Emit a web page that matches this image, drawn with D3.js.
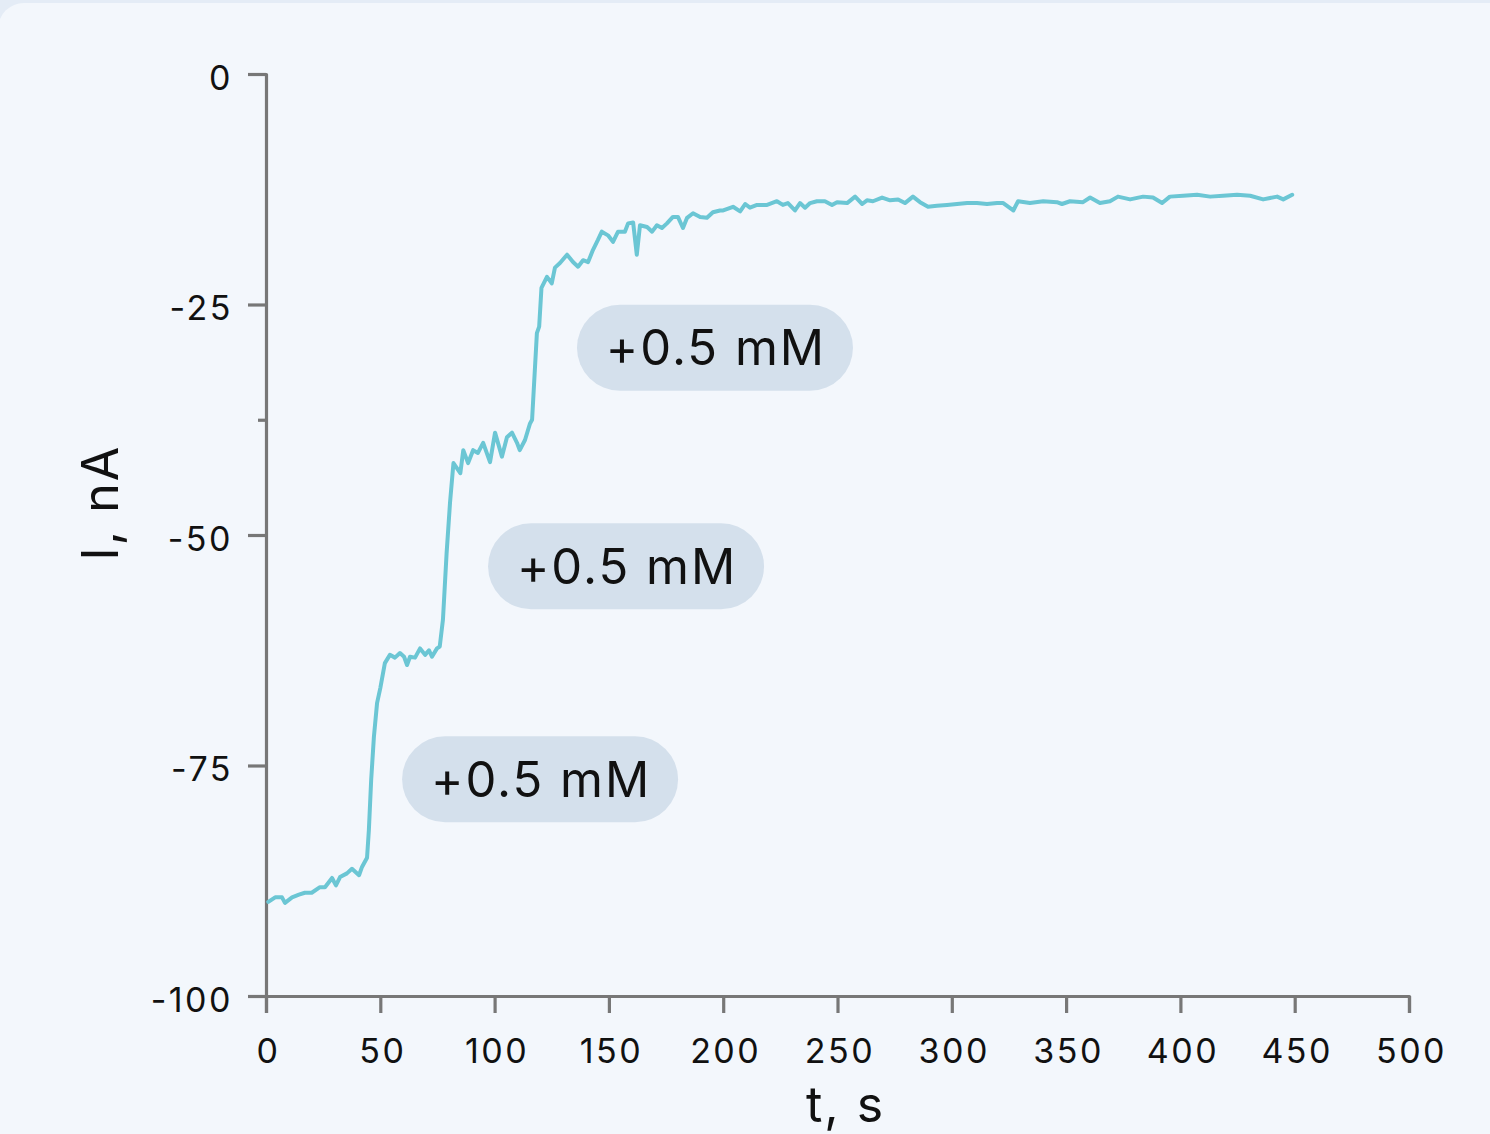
<!DOCTYPE html>
<html>
<head>
<meta charset="utf-8">
<script src="https://cdn.jsdelivr.net/npm/d3@7"></script>
<style>
  html, body { margin: 0; padding: 0; background: #e4ecf6; }
  svg { display: block; font-family: Inter, "Noto Sans", sans-serif; }
</style>
</head>
<body>
<svg id="chart"></svg>
<script>
// chart size
const width = 1490, height = 1134;

// time, s
const timeS = [
  1, 4, 7, 8.3, 11.4, 14.4, 17, 20, 23.6, 25.8, 28.9, 30.6, 32.4, 35.4, 37.6, 40.7, 42, 44.2,
  45, 46, 47.2, 48.6, 50, 52, 54.2, 56.4, 58.6, 60.4, 61.7, 63, 65.2, 67.4, 69.6, 71.3, 72.6,
  74.8, 76, 77.4, 79, 80.5, 82, 85, 86.3, 88.4, 90.6, 92.7, 95, 98, 100.2, 103.2, 105.4,
  107.6, 109.8, 111, 113.3, 115.5, 116.4, 118.5, 119.5, 120.5, 122.9, 125, 126.4, 128.6,
  131.7, 134.3, 136.5, 138.7, 140.9, 143, 145.2, 146.9, 149.6, 151.8, 154, 157, 158.4,
  160.6, 162.2, 163.6, 166.7, 168.9, 171, 173.2, 175.4, 178, 180.2, 182.4, 184.2, 186.8,
  189.9, 192.9, 195.5, 198.6, 200, 204.3, 207.4, 209.6, 211.7, 214.8, 219.2, 223.5, 226.1,
  228.3, 231.4, 233.6, 235.8, 238, 241, 244.5, 247.6, 249.8, 254.2, 257.7, 260.8, 262.9,
  265.5, 269.5, 273, 276.5, 279.5, 283, 286.1, 289.6, 293.5, 297.9, 302.3, 306.7, 311,
  315.4, 319.8, 322.5, 326.9, 329, 334.2, 340, 346, 348.2, 351.7, 357.4, 360.5, 364.8,
  369.2, 372.7, 378, 383.7, 388, 392, 395.4, 401.2, 407.3, 413, 418.7, 424.8, 430.5,
  436.2, 442.3, 445, 448.9
];

// current, nA
const currentNA = [
  -89.8, -89.3, -89.3, -89.9, -89.3, -89.0, -88.8, -88.8, -88.2, -88.2, -87.2, -88.0, -87.1,
  -86.7, -86.2, -86.9, -86.0, -85.0,
  -82.0, -76.6, -71.9, -68.2, -66.6, -63.9, -63.0, -63.3, -62.8, -63.2, -64.1, -63.2, -63.3,
  -62.3, -63.0, -62.5, -63.2,
  -62.3, -62.1, -59.2, -52.0, -46.5, -42.2, -43.3, -40.8, -42.2, -40.8, -41.1, -40.0, -42.1,
  -38.9, -41.5, -39.4,
  -38.9, -40.0, -40.8, -39.7, -37.9, -37.5, -28.1, -27.4, -23.2, -22.0, -22.7, -21.0, -20.5,
  -19.6, -20.4, -20.9, -20.2, -20.4, -19.1, -18.0, -17.1, -17.5, -18.2, -17.1, -17.1, -16.2,
  -16.1, -19.6, -16.4, -16.6, -17.1, -16.4, -16.7, -16.2, -15.5, -15.5, -16.7, -15.6, -15.1,
  -15.5, -15.6, -15.0, -14.8, -14.8, -14.4, -14.9, -14.1, -14.5, -14.2, -14.2, -13.8, -14.2,
  -14.0, -14.8, -14.0, -14.5, -14.0, -13.8, -13.8, -14.2, -13.9, -14.0, -13.3, -14.1, -13.7,
  -13.8, -13.4, -13.7, -13.6, -14.0, -13.3, -13.9, -14.4, -14.3, -14.2, -14.1, -14.0, -14.0,
  -14.1, -14.0, -14.0, -14.8, -13.8, -14.0, -13.8, -13.9, -14.1, -13.8, -13.9, -13.4, -14.0,
  -13.8, -13.3, -13.6, -13.3, -13.4, -14.0, -13.3, -13.2, -13.1, -13.3, -13.2, -13.1, -13.2,
  -13.6, -13.3, -13.6, -13.1
];

// axis ticks
const xTicks = [0, 50, 100, 150, 200, 250, 300, 350, 400, 450, 500];
const yTicks = [0, -25, -50, -75, -100];
const yMinorTicks = [-37.5];

// annotations: label text and anchor (t, I) of the pill centre
const annoText = ['+0.5 mM', '+0.5 mM', '+0.5 mM'];
const annoT = [119.9, 157.5, 196.4];
const annoI = [-76.5, -53.4, -29.7];

const margin = { left: 266, top: 74, right: 81, bottom: 138 };

const svg = d3.select('#chart').attr('width', width).attr('height', height);

// card background
svg.append('rect')
  .attr('x', -2).attr('y', 3)
  .attr('width', width + 30).attr('height', height + 30)
  .attr('rx', 26)
  .attr('fill', '#f3f7fc');

const x = d3.scaleLinear().domain([0, 500]).range([margin.left, width - margin.right]);
const y = d3.scaleLinear().domain([-100, 0]).range([height - margin.bottom, margin.top]);

const axisColor = '#777777';

// x axis
svg.append('g')
  .attr('class', 'xaxis')
  .attr('transform', `translate(0,${y(-100)})`)
  .call(d3.axisBottom(x).tickValues(xTicks).tickSize(17).tickPadding(26).tickFormat(d3.format('d')));

// y axis
svg.append('g')
  .attr('class', 'yaxis')
  .attr('transform', `translate(${x(0)},0)`)
  .call(d3.axisLeft(y).tickValues(yTicks).tickSize(18).tickPadding(15).tickFormat(d => d === 0 ? '0' : '-' + Math.abs(d)));

// minor tick
svg.append('g')
  .attr('transform', `translate(${x(0)},0)`)
  .call(d3.axisLeft(y).tickValues(yMinorTicks).tickSize(8).tickFormat(''))
  .call(g => g.select('.domain').remove());

svg.selectAll('.domain, .tick line')
  .attr('stroke', axisColor)
  .attr('stroke-width', 3.2)
  .attr('stroke-linejoin', 'round');

svg.selectAll('.tick text')
  .attr('fill', '#111')
  .attr('font-size', 34)
  .attr('letter-spacing', 2.5)
  .attr('font-family', 'Inter, sans-serif');

svg.selectAll('.yaxis .tick text').attr('dy', '0.45em');
svg.selectAll('.xaxis .tick text').attr('dx', 2);

// data line
const line = d3.line()
  .x((d, i) => x(timeS[i]))
  .y(d => y(d));

svg.append('path')
  .datum(currentNA)
  .attr('fill', 'none')
  .attr('stroke', '#6bc6d4')
  .attr('stroke-width', 4)
  .attr('stroke-linejoin', 'round')
  .attr('stroke-linecap', 'round')
  .attr('d', line);

// annotation pills
const pillW = 276, pillH = 86;
const anno = svg.append('g').selectAll('g')
  .data(annoText)
  .enter()
  .append('g')
  .attr('transform', (d, i) => `translate(${x(annoT[i])},${y(annoI[i])})`);

anno.append('rect')
  .attr('x', -pillW / 2).attr('y', -pillH / 2)
  .attr('width', pillW).attr('height', pillH)
  .attr('rx', pillH / 2)
  .attr('fill', '#d4e0ec');

anno.append('text')
  .attr('text-anchor', 'middle')
  .attr('dx', 1)
  .attr('dy', '0.36em')
  .attr('font-size', 49)
  .attr('letter-spacing', 2)
  .attr('fill', '#111')
  .text(d => d);

// axis titles
svg.append('text')
  .attr('x', x(250) + 8)
  .attr('y', 1122)
  .attr('text-anchor', 'middle')
  .attr('font-size', 50)
  .attr('letter-spacing', 2)
  .attr('fill', '#111')
  .text('t, s');

svg.append('text')
  .attr('transform', `translate(118,${y(-46.5)}) rotate(-90)`)
  .attr('text-anchor', 'middle')
  .attr('font-size', 50)
  .attr('letter-spacing', 2)
  .attr('fill', '#111')
  .text('I, nA');
</script>
</body>
</html>
